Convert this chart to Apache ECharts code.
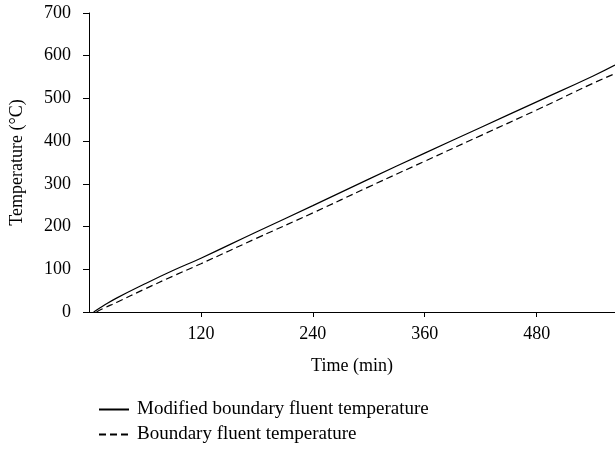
<!DOCTYPE html>
<html>
<head>
<meta charset="utf-8">
<script src="https://cdn.jsdelivr.net/npm/echarts@6/dist/echarts.min.js"></script>
<style>
html,body{margin:0;padding:0;background:#fff;}
#chart{width:615px;height:449px;}
</style>
</head>
<body>
<div id="chart"></div>
<script>
var seriesNames = ['Modified boundary fluent temperature', 'Boundary fluent temperature'];
var xTicks = [120, 240, 360, 480];
var yTicks = [0, 100, 200, 300, 400, 500, 600, 700];
var modifiedTime = [5, 15, 30, 60, 90, 120, 180, 240, 300, 360, 420, 480, 540, 564];
var modifiedTemp = [0, 14, 33, 66, 97, 126, 188, 249, 311, 372, 432, 492, 552, 578];
var boundaryTime = [8, 15, 30, 60, 90, 120, 180, 240, 300, 360, 420, 480, 540, 564];
var boundaryTemp = [0, 8, 23, 54, 84, 113, 173, 232, 293, 353, 413, 473, 535, 558];

function pairs(xs, ys){ return xs.map(function(x,i){ return [x, ys[i]]; }); }

var font = '"Liberation Serif", "Times New Roman", serif';
var fs = 18;
var chart = echarts.init(document.getElementById('chart'), null, {renderer:'canvas'});
chart.setOption({
  animation: false,
  backgroundColor: '#fff',
  textStyle: {fontFamily: font, color: '#000'},
  grid: {left: 89, right: 0, top: 13, bottom: 137, containLabel: false},
  xAxis: {
    type: 'value', min: 0, max: 564, interval: 120,
    name: 'Time (min)', nameLocation: 'middle', nameGap: 45,
    nameTextStyle: {fontFamily: font, fontSize: fs, color: '#000'},
    axisLine: {show: true, lineStyle: {color: '#000', width: 1}},
    axisTick: {show: true, inside: false, length: 5, lineStyle: {color: '#000'}, customValues: xTicks},
    axisLabel: {fontFamily: font, fontSize: fs, color: '#000', margin: 13, customValues: xTicks},
    splitLine: {show: false}
  },
  yAxis: {
    type: 'value', min: yTicks[0], max: yTicks[yTicks.length-1], interval: 100,
    name: 'Temperature (°C)', nameLocation: 'middle', nameGap: 63,
    nameTextStyle: {fontFamily: font, fontSize: fs, color: '#000'},
    axisLine: {show: true, lineStyle: {color: '#000', width: 1}},
    axisTick: {show: true, inside: false, length: 6, lineStyle: {color: '#000'}},
    axisLabel: {fontFamily: font, fontSize: fs, color: '#000', margin: 18},
    splitLine: {show: false}
  },
  legend: {
    orient: 'vertical', left: 98, top: 400, itemGap: 6, padding: 0,
    itemWidth: 30, itemHeight: 14,
    itemStyle: {color: 'rgba(0,0,0,0)', borderWidth: 0, opacity: 0},
    textStyle: {fontFamily: font, fontSize: 19, color: '#000', padding: [0,0,0,3]},
    data: seriesNames
  },
  series: [
    {name: seriesNames[0], type: 'line', data: pairs(modifiedTime, modifiedTemp),
     symbol: 'none', smooth: true, lineStyle: {color: '#000', width: 1.2, type: 'solid'},
     itemStyle: {color: '#000'}},
    {name: seriesNames[1], type: 'line', data: pairs(boundaryTime, boundaryTemp),
     symbol: 'none', smooth: true, lineStyle: {color: '#000', width: 1.2, type: [7, 4]},
     itemStyle: {color: '#000'}}
  ]
});
</script>
</body>
</html>
